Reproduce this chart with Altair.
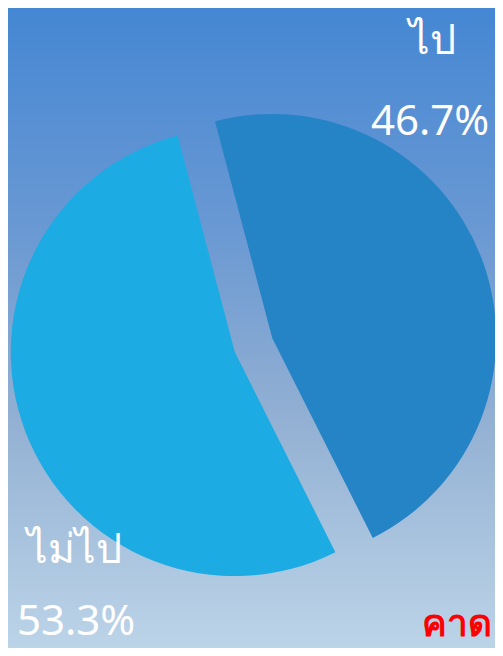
import math
import altair as alt
import pandas as pd

# ---- data ----
categories = ["ไป", "ไม่ไป"]
values = [46.7, 53.3]
pct_labels = ["46.7%", "53.3%"]
slice_colors = ["#2584C6", "#1CABE2"]
note_text = "คาด"

# ---- layout ----
W, H = 487, 640
CX, CY = 245.5, 337
R = 224
EXPLODE = 20
START = 2 * math.pi - math.radians(14.8)

total = sum(values)
starts, ends = [], []
acc = 0.0
for v in values:
    starts.append(START + 2 * math.pi * acc / total)
    acc += v
    ends.append(START + 2 * math.pi * acc / total)

df = pd.DataFrame({"cat": categories, "value": values, "t0": starts, "t1": ends})

bg = alt.Chart(pd.DataFrame({"a": [0]})).mark_rect(
    color=alt.Gradient(
        gradient="linear",
        x1=0, x2=0, y1=0, y2=1,
        stops=[
            alt.GradientStop(color="#4587D3", offset=0),
            alt.GradientStop(color="#6A99D3", offset=0.35),
            alt.GradientStop(color="#90AED2", offset=0.62),
            alt.GradientStop(color="#BCD4E8", offset=1),
        ],
    )
).encode(x=alt.value(0), x2=alt.value(W), y=alt.value(0), y2=alt.value(H))

layers = [bg]
for i, cat in enumerate(categories):
    mid = (starts[i] + ends[i]) / 2
    dx = EXPLODE * math.sin(mid)
    dy = -EXPLODE * math.cos(mid)
    arc = alt.Chart(df).transform_filter(
        alt.datum.cat == cat
    ).mark_arc(
        color=slice_colors[i], xOffset=dx, yOffset=dy
    ).encode(
        theta=alt.Theta("t0:Q", scale=None),
        theta2="t1:Q",
        radius=alt.value(R),
        x=alt.value(CX),
        y=alt.value(CY),
    )
    layers.append(arc)

font = "Noto Sans"
label_pos = [((424, 46), (422, 127)), ((66, 555), (68, 627))]
for i, cat in enumerate(categories):
    (nx, ny), (px, py) = label_pos[i]
    layers.append(
        alt.Chart(pd.DataFrame({"t": [cat]})).mark_text(
            font=font, fontSize=41, color="white", align="center", baseline="alphabetic"
        ).encode(text="t:N", x=alt.value(nx), y=alt.value(ny))
    )
    layers.append(
        alt.Chart(pd.DataFrame({"t": [pct_labels[i]]})).mark_text(
            font=font, fontSize=42, color="white", align="center", baseline="alphabetic"
        ).encode(text="t:N", x=alt.value(px), y=alt.value(py))
    )

layers.append(
    alt.Chart(pd.DataFrame({"t": [note_text]})).mark_text(
        font=font, fontSize=37, fontWeight="bold", color="#FF0000", align="left", baseline="alphabetic"
    ).encode(text="t:N", x=alt.value(414), y=alt.value(628))
)

chart = alt.layer(*layers).properties(
    width=W, height=H, autosize=alt.AutoSizeParams(type="none"), padding=0
).configure_view(stroke=None)

chart.save("out.html", embed_options={"renderer": "svg", "actions": False})
